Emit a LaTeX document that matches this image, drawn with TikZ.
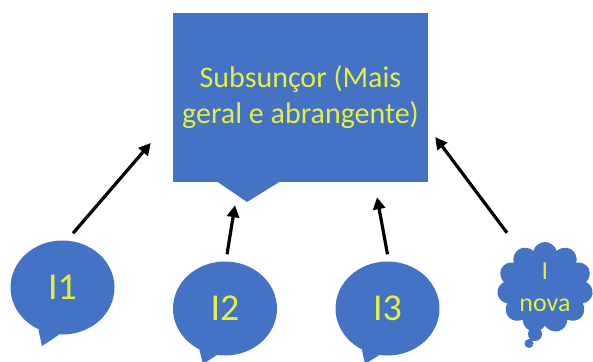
\documentclass[tikz,border=0pt]{standalone}
\usepackage{fontspec}
\setmainfont{Carlito}
\usetikzlibrary{arrows.meta}
\usetikzlibrary{shapes.geometric,shapes.symbols}
\definecolor{azul}{RGB}{68,114,196}
\definecolor{amarelo}{RGB}{228,240,64}

\begin{document}
\begin{tikzpicture}[
    x=1pt, y=-1pt,
    every node/.style={fill=azul, text=amarelo, inner sep=0pt},
    balao/.style={ellipse, minimum width=104pt, minimum height=94pt, font=\fontsize{38}{40}\selectfont},
    seta/.style={draw, line width=3.2pt, -{Triangle[length=12pt, width=12pt]}}
]
    \useasboundingbox (0,0) rectangle (593,361);

    % Subsuncor
    \node[rectangle, minimum width=255pt, minimum height=169pt, align=center,
          font=\fontsize{30}{36}\selectfont] (sub) at (300.5,97.5) {Subsunçor (Mais\\geral e abrangente)};
    \fill[azul] (217,181.5) -- (247,202) -- (280,181.5) -- cycle;

    % baloes
    \node[balao] (i1) at (62.5,287.5) {I1};
    \fill[azul] (i1.240) -- (42,346) -- (i1.266) -- cycle;

    \node[balao] (i2) at (225,308.5) {I2};
    \fill[azul] (i2.238) -- (203,364) -- (i2.260) -- cycle;

    \node[balao] (i3) at (387.5,308.5) {I3};
    \fill[azul] (i3.238) -- (365,364) -- (i3.260) -- cycle;

    % nuvem
    \node[cloud, cloud puffs=11, cloud ignores aspect, minimum width=96pt, minimum height=91pt,
          align=center, font=\fontsize{26}{32}\selectfont] (inova) at (545,287.5) {I\\nova};
    \fill[azul] (535,334) circle (7pt) (529,343.5) circle (4.5pt);

    % setas
    \draw[seta] ([shift={(10.5,-7)}]i1.north) -- ([shift={(-22,45.5)}]sub.west);
    \draw[seta] ([shift={(2,-7)}]i2.north) -- ([shift={(-65.5,23)}]sub.south);
    \draw[seta] ([shift={(0,-7)}]i3.north) -- ([shift={(76.5,15)}]sub.south);
    \draw[seta] ([shift={(-38,-9)}]inova.north) -- ([shift={(7,39.5)}]sub.east);

\end{tikzpicture}
\end{document}
